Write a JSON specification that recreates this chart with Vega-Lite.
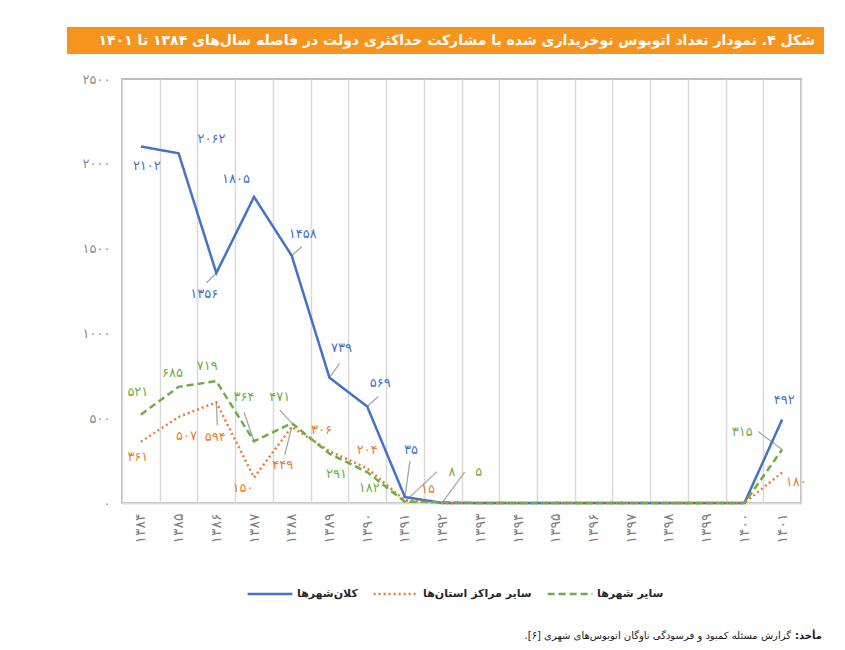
{
  "$schema": "https://vega.github.io/schema/vega-lite/v6.json",
  "padding": {"left": 67, "top": 27, "right": 10, "bottom": 5},
  "background": "white",
  "bounds": "flush",
  "spacing": 25,
  "config": {"font": "DejaVu Sans"},
  "datasets": {
    "bus": [
      {"n": 1384, "k": "b", "s": "کلان‌شهرها", "v": 2102},
      {"n": 1385, "k": "b", "s": "کلان‌شهرها", "v": 2062},
      {"n": 1386, "k": "b", "s": "کلان‌شهرها", "v": 1356},
      {"n": 1387, "k": "b", "s": "کلان‌شهرها", "v": 1805},
      {"n": 1388, "k": "b", "s": "کلان‌شهرها", "v": 1458},
      {"n": 1389, "k": "b", "s": "کلان‌شهرها", "v": 739},
      {"n": 1390, "k": "b", "s": "کلان‌شهرها", "v": 569},
      {"n": 1391, "k": "b", "s": "کلان‌شهرها", "v": 35},
      {"n": 1392, "k": "b", "s": "کلان‌شهرها", "v": 0},
      {"n": 1393, "k": "b", "s": "کلان‌شهرها", "v": 0},
      {"n": 1394, "k": "b", "s": "کلان‌شهرها", "v": 0},
      {"n": 1395, "k": "b", "s": "کلان‌شهرها", "v": 0},
      {"n": 1396, "k": "b", "s": "کلان‌شهرها", "v": 0},
      {"n": 1397, "k": "b", "s": "کلان‌شهرها", "v": 0},
      {"n": 1398, "k": "b", "s": "کلان‌شهرها", "v": 0},
      {"n": 1399, "k": "b", "s": "کلان‌شهرها", "v": 0},
      {"n": 1400, "k": "b", "s": "کلان‌شهرها", "v": 0},
      {"n": 1401, "k": "b", "s": "کلان‌شهرها", "v": 492},
      {"n": 1384, "k": "o", "s": "سایر مراکز استان‌ها", "v": 361},
      {"n": 1385, "k": "o", "s": "سایر مراکز استان‌ها", "v": 507},
      {"n": 1386, "k": "o", "s": "سایر مراکز استان‌ها", "v": 594},
      {"n": 1387, "k": "o", "s": "سایر مراکز استان‌ها", "v": 150},
      {"n": 1388, "k": "o", "s": "سایر مراکز استان‌ها", "v": 449},
      {"n": 1389, "k": "o", "s": "سایر مراکز استان‌ها", "v": 306},
      {"n": 1390, "k": "o", "s": "سایر مراکز استان‌ها", "v": 204},
      {"n": 1391, "k": "o", "s": "سایر مراکز استان‌ها", "v": 15},
      {"n": 1392, "k": "o", "s": "سایر مراکز استان‌ها", "v": 0},
      {"n": 1393, "k": "o", "s": "سایر مراکز استان‌ها", "v": 0},
      {"n": 1394, "k": "o", "s": "سایر مراکز استان‌ها", "v": 0},
      {"n": 1395, "k": "o", "s": "سایر مراکز استان‌ها", "v": 0},
      {"n": 1396, "k": "o", "s": "سایر مراکز استان‌ها", "v": 0},
      {"n": 1397, "k": "o", "s": "سایر مراکز استان‌ها", "v": 0},
      {"n": 1398, "k": "o", "s": "سایر مراکز استان‌ها", "v": 0},
      {"n": 1399, "k": "o", "s": "سایر مراکز استان‌ها", "v": 0},
      {"n": 1400, "k": "o", "s": "سایر مراکز استان‌ها", "v": 0},
      {"n": 1401, "k": "o", "s": "سایر مراکز استان‌ها", "v": 180},
      {"n": 1384, "k": "g", "s": "سایر شهرها", "v": 521},
      {"n": 1385, "k": "g", "s": "سایر شهرها", "v": 685},
      {"n": 1386, "k": "g", "s": "سایر شهرها", "v": 719},
      {"n": 1387, "k": "g", "s": "سایر شهرها", "v": 364},
      {"n": 1388, "k": "g", "s": "سایر شهرها", "v": 471},
      {"n": 1389, "k": "g", "s": "سایر شهرها", "v": 291},
      {"n": 1390, "k": "g", "s": "سایر شهرها", "v": 182},
      {"n": 1391, "k": "g", "s": "سایر شهرها", "v": 8},
      {"n": 1392, "k": "g", "s": "سایر شهرها", "v": 5},
      {"n": 1393, "k": "g", "s": "سایر شهرها", "v": 0},
      {"n": 1394, "k": "g", "s": "سایر شهرها", "v": 0},
      {"n": 1395, "k": "g", "s": "سایر شهرها", "v": 0},
      {"n": 1396, "k": "g", "s": "سایر شهرها", "v": 0},
      {"n": 1397, "k": "g", "s": "سایر شهرها", "v": 0},
      {"n": 1398, "k": "g", "s": "سایر شهرها", "v": 0},
      {"n": 1399, "k": "g", "s": "سایر شهرها", "v": 0},
      {"n": 1400, "k": "g", "s": "سایر شهرها", "v": 0},
      {"n": 1401, "k": "g", "s": "سایر شهرها", "v": 315}
    ]
  },
  "vconcat": [
    {
      "width": 757,
      "height": 27,
      "view": {"fill": "#F7941D", "stroke": null},
      "data": {"values": [{"t": "شکل ۴. نمودار تعداد اتوبوس نوخریداری شده با مشارکت حداکثری دولت در فاصله سال‌های ۱۳۸۴ تا ۱۴۰۱"}]},
      "mark": {"type": "text", "align": "right", "baseline": "middle", "color": "white", "fontWeight": "bold", "fontSize": 14},
      "encoding": {
        "text": {"field": "t"},
        "x": {"value": 748},
        "y": {"value": 14}
      }
    },
    {
      "bounds": "flush",
      "spacing": 20,
      "hconcat": [
        {
          "width": 35,
          "height": 10,
          "view": {"stroke": null},
          "data": {"values": [{"t": ""}]},
          "mark": {"type": "text"},
          "encoding": {"text": {"field": "t"}}
        },
        {
          "width": 679,
          "height": 424,
          "view": {"stroke": "#a6a6a6", "strokeWidth": 1.5},
          "data": {"name": "bus"},
          "transform": [
            {"calculate": "replace(replace(replace(replace(replace(replace(replace(replace(replace(replace(toString(datum.v),regexp('0','g'),'۰'),regexp('1','g'),'۱'),regexp('2','g'),'۲'),regexp('3','g'),'۳'),regexp('4','g'),'۴'),regexp('5','g'),'۵'),regexp('6','g'),'۶'),regexp('7','g'),'۷'),regexp('8','g'),'۸'),regexp('9','g'),'۹')", "as": "lab"}
          ],
          "encoding": {
            "x": {
              "field": "n",
              "type": "ordinal",
              "scale": {"type": "band", "paddingInner": 0, "paddingOuter": 0},
              "axis": {
                "title": null,
                "labelExpr": "replace(replace(replace(replace(replace(replace(replace(replace(replace(replace(datum.label,regexp('0','g'),'۰'),regexp('1','g'),'۱'),regexp('2','g'),'۲'),regexp('3','g'),'۳'),regexp('4','g'),'۴'),regexp('5','g'),'۵'),regexp('6','g'),'۶'),regexp('7','g'),'۷'),regexp('8','g'),'۸'),regexp('9','g'),'۹')",
                "labelAngle": -90,
                "labelPadding": 10,
                "labelFontSize": 14,
                "labelColor": "#7f7f7f",
                "ticks": false,
                "tickBand": "extent",
                "grid": true,
                "gridColor": "#d9d9d9",
                "gridWidth": 1.5,
                "domainColor": "#d9d9d9",
                "domainWidth": 2
              }
            },
            "y": {
              "field": "v",
              "type": "quantitative",
              "scale": {"domain": [0, 2500]},
              "axis": {
                "title": null,
                "values": [0, 500, 1000, 1500, 2000, 2500],
                "format": "d",
                "labelExpr": "replace(replace(replace(replace(replace(replace(replace(replace(replace(replace(datum.label,regexp('0','g'),'۰'),regexp('1','g'),'۱'),regexp('2','g'),'۲'),regexp('3','g'),'۳'),regexp('4','g'),'۴'),regexp('5','g'),'۵'),regexp('6','g'),'۶'),regexp('7','g'),'۷'),regexp('8','g'),'۸'),regexp('9','g'),'۹')",
                "labelPadding": 12,
                "labelFontSize": 13,
                "labelColor": "#8c8c8c",
                "ticks": false,
                "domain": false,
                "grid": false
              }
            }
          },
          "layer": [
            {
              "encoding": {"x2": {"field": "n"}, "y2": {"field": "v"}},
              "layer": [
                {"transform": [{"filter": "datum.k=='b' && datum.n==1386"}], "mark": {"type": "rule", "color": "#a6a6a6", "strokeWidth": 1.3, "x2Offset": -10, "y2Offset": 10}},
                {"transform": [{"filter": "datum.k=='b' && datum.n==1388"}], "mark": {"type": "rule", "color": "#a6a6a6", "strokeWidth": 1.3, "x2Offset": 10, "y2Offset": -9}},
                {"transform": [{"filter": "datum.k=='b' && datum.n==1389"}], "mark": {"type": "rule", "color": "#a6a6a6", "strokeWidth": 1.3, "x2Offset": 10, "y2Offset": -14}},
                {"transform": [{"filter": "datum.k=='b' && datum.n==1390"}], "mark": {"type": "rule", "color": "#a6a6a6", "strokeWidth": 1.3, "x2Offset": 11, "y2Offset": -10}},
                {"transform": [{"filter": "datum.k=='b' && datum.n==1391"}], "mark": {"type": "rule", "color": "#a6a6a6", "strokeWidth": 1.3, "x2Offset": 5, "y2Offset": -36}},
                {"transform": [{"filter": "datum.k=='g' && datum.n==1387"}], "mark": {"type": "rule", "color": "#a6a6a6", "strokeWidth": 1.3, "x2Offset": -10, "y2Offset": -29}},
                {"transform": [{"filter": "datum.k=='g' && datum.n==1388"}], "mark": {"type": "rule", "color": "#a6a6a6", "strokeWidth": 1.3, "x2Offset": -12, "y2Offset": -13}},
                {"transform": [{"filter": "datum.k=='g' && datum.n==1391"}], "mark": {"type": "rule", "color": "#a6a6a6", "strokeWidth": 1.3, "x2Offset": 32, "y2Offset": -30}},
                {"transform": [{"filter": "datum.k=='g' && datum.n==1392"}], "mark": {"type": "rule", "color": "#a6a6a6", "strokeWidth": 1.3, "x2Offset": 22, "y2Offset": -30}},
                {"transform": [{"filter": "datum.k=='g' && datum.n==1401"}], "mark": {"type": "rule", "color": "#a6a6a6", "strokeWidth": 1.3, "x2Offset": -24, "y2Offset": -18}},
                {"transform": [{"filter": "datum.k=='o' && datum.n==1386"}], "mark": {"type": "rule", "color": "#a6a6a6", "strokeWidth": 1.3, "x2Offset": 1, "y2Offset": 23}},
                {"transform": [{"filter": "datum.k=='o' && datum.n==1388"}], "mark": {"type": "rule", "color": "#a6a6a6", "strokeWidth": 1.3, "x2Offset": -7, "y2Offset": 28}}
              ]
            },
            {
              "mark": {"type": "line", "strokeWidth": 2.5},
              "encoding": {
                "color": {
                  "field": "s",
                  "type": "nominal",
                  "scale": {"domain": ["کلان‌شهرها", "سایر مراکز استان‌ها", "سایر شهرها"], "range": ["#4472C4", "#ED7D31", "#70AD47"]},
                  "legend": {
                    "orient": "none",
                    "legendX": 179,
                    "legendY": 543,
                    "direction": "horizontal",
                    "title": null,
                    "symbolType": "stroke",
                    "symbolSize": 2000,
                    "symbolStrokeWidth": 2.5,
                    "labelFontSize": 11,
                    "labelFontWeight": "bold",
                    "labelColor": "#262626",
                    "columnSpacing": 22,
                    "labelOffset": 3
                  }
                },
                "strokeDash": {
                  "field": "s",
                  "type": "nominal",
                  "scale": {"domain": ["کلان‌شهرها", "سایر مراکز استان‌ها", "سایر شهرها"], "range": [[1, 0], [2, 3], [7, 4]]},
                  "legend": null
                }
              }
            },
            {
              "encoding": {"text": {"field": "lab"}},
              "layer": [
                {"transform": [{"filter": "datum.k=='b' && datum.n==1384"}], "mark": {"type": "text", "fontSize": 13, "color": "#4472C4", "dx": 6, "dy": 19}},
                {"transform": [{"filter": "datum.k=='b' && datum.n==1385"}], "mark": {"type": "text", "fontSize": 13, "color": "#4472C4", "dx": 33, "dy": -14}},
                {"transform": [{"filter": "datum.k=='b' && datum.n==1386"}], "mark": {"type": "text", "fontSize": 13, "color": "#4472C4", "dx": -12, "dy": 21}},
                {"transform": [{"filter": "datum.k=='b' && datum.n==1387"}], "mark": {"type": "text", "fontSize": 13, "color": "#4472C4", "dx": -18, "dy": -18}},
                {"transform": [{"filter": "datum.k=='b' && datum.n==1388"}], "mark": {"type": "text", "fontSize": 13, "color": "#4472C4", "dx": 11, "dy": -22}},
                {"transform": [{"filter": "datum.k=='b' && datum.n==1389"}], "mark": {"type": "text", "fontSize": 13, "color": "#4472C4", "dx": 12, "dy": -30}},
                {"transform": [{"filter": "datum.k=='b' && datum.n==1390"}], "mark": {"type": "text", "fontSize": 13, "color": "#4472C4", "dx": 13, "dy": -23}},
                {"transform": [{"filter": "datum.k=='b' && datum.n==1391"}], "mark": {"type": "text", "fontSize": 13, "color": "#4472C4", "dx": 6, "dy": -47}},
                {"transform": [{"filter": "datum.k=='b' && datum.n==1401"}], "mark": {"type": "text", "fontSize": 13, "color": "#4472C4", "dx": 2, "dy": -20}},
                {"transform": [{"filter": "datum.k=='g' && datum.n==1384"}], "mark": {"type": "text", "fontSize": 13, "color": "#70AD47", "dx": -3, "dy": -23}},
                {"transform": [{"filter": "datum.k=='g' && datum.n==1385"}], "mark": {"type": "text", "fontSize": 13, "color": "#70AD47", "dx": -6, "dy": -14}},
                {"transform": [{"filter": "datum.k=='g' && datum.n==1386"}], "mark": {"type": "text", "fontSize": 13, "color": "#70AD47", "dx": -9, "dy": -15}},
                {"transform": [{"filter": "datum.k=='g' && datum.n==1387"}], "mark": {"type": "text", "fontSize": 13, "color": "#70AD47", "dx": -10, "dy": -44}},
                {"transform": [{"filter": "datum.k=='g' && datum.n==1388"}], "mark": {"type": "text", "fontSize": 13, "color": "#70AD47", "dx": -12, "dy": -26}},
                {"transform": [{"filter": "datum.k=='g' && datum.n==1389"}], "mark": {"type": "text", "fontSize": 13, "color": "#70AD47", "dx": 7, "dy": 20}},
                {"transform": [{"filter": "datum.k=='g' && datum.n==1390"}], "mark": {"type": "text", "fontSize": 13, "color": "#70AD47", "dx": 2, "dy": 16}},
                {"transform": [{"filter": "datum.k=='g' && datum.n==1391"}], "mark": {"type": "text", "fontSize": 13, "color": "#70AD47", "dx": 47, "dy": -30}},
                {"transform": [{"filter": "datum.k=='g' && datum.n==1392"}], "mark": {"type": "text", "fontSize": 13, "color": "#70AD47", "dx": 36, "dy": -30}},
                {"transform": [{"filter": "datum.k=='g' && datum.n==1401"}], "mark": {"type": "text", "fontSize": 13, "color": "#70AD47", "dx": -40, "dy": -18}},
                {"transform": [{"filter": "datum.k=='o' && datum.n==1384"}], "mark": {"type": "text", "fontSize": 13, "color": "#ED7D31", "dx": -3, "dy": 15}},
                {"transform": [{"filter": "datum.k=='o' && datum.n==1385"}], "mark": {"type": "text", "fontSize": 13, "color": "#ED7D31", "dx": 8, "dy": 19}},
                {"transform": [{"filter": "datum.k=='o' && datum.n==1386"}], "mark": {"type": "text", "fontSize": 13, "color": "#ED7D31", "dx": -1, "dy": 35}},
                {"transform": [{"filter": "datum.k=='o' && datum.n==1387"}], "mark": {"type": "text", "fontSize": 13, "color": "#ED7D31", "dx": -11, "dy": 10}},
                {"transform": [{"filter": "datum.k=='o' && datum.n==1388"}], "mark": {"type": "text", "fontSize": 13, "color": "#ED7D31", "dx": -9, "dy": 38}},
                {"transform": [{"filter": "datum.k=='o' && datum.n==1389"}], "mark": {"type": "text", "fontSize": 13, "color": "#ED7D31", "dx": -8, "dy": -21}},
                {"transform": [{"filter": "datum.k=='o' && datum.n==1390"}], "mark": {"type": "text", "fontSize": 13, "color": "#ED7D31", "dx": 0, "dy": -18}},
                {"transform": [{"filter": "datum.k=='o' && datum.n==1391"}], "mark": {"type": "text", "fontSize": 13, "color": "#ED7D31", "dx": 23, "dy": -11}},
                {"transform": [{"filter": "datum.k=='o' && datum.n==1401"}], "mark": {"type": "text", "fontSize": 13, "color": "#ED7D31", "dx": 14, "dy": 10}}
              ]
            }
          ]
        }
      ]
    },
    {
      "width": 757,
      "height": 540,
      "view": {"stroke": null},
      "data": {"values": [{"a": "مأخذ:\u200f", "b": "گزارش مسئله کمبود و فرسودگی ناوگان اتوبوس‌های شهری [۶].\u200f"}]},
      "layer": [
        {
          "mark": {"type": "text", "align": "right", "baseline": "middle", "fontSize": 10, "fontWeight": "bold", "color": "#1a1a1a"},
          "encoding": {"text": {"field": "a"}, "x": {"value": 755}, "y": {"value": 532}}
        },
        {
          "mark": {"type": "text", "align": "right", "baseline": "middle", "fontSize": 10, "color": "#1a1a1a"},
          "encoding": {"text": {"field": "b"}, "x": {"value": 724}, "y": {"value": 532}}
        }
      ]
    }
  ]
}
